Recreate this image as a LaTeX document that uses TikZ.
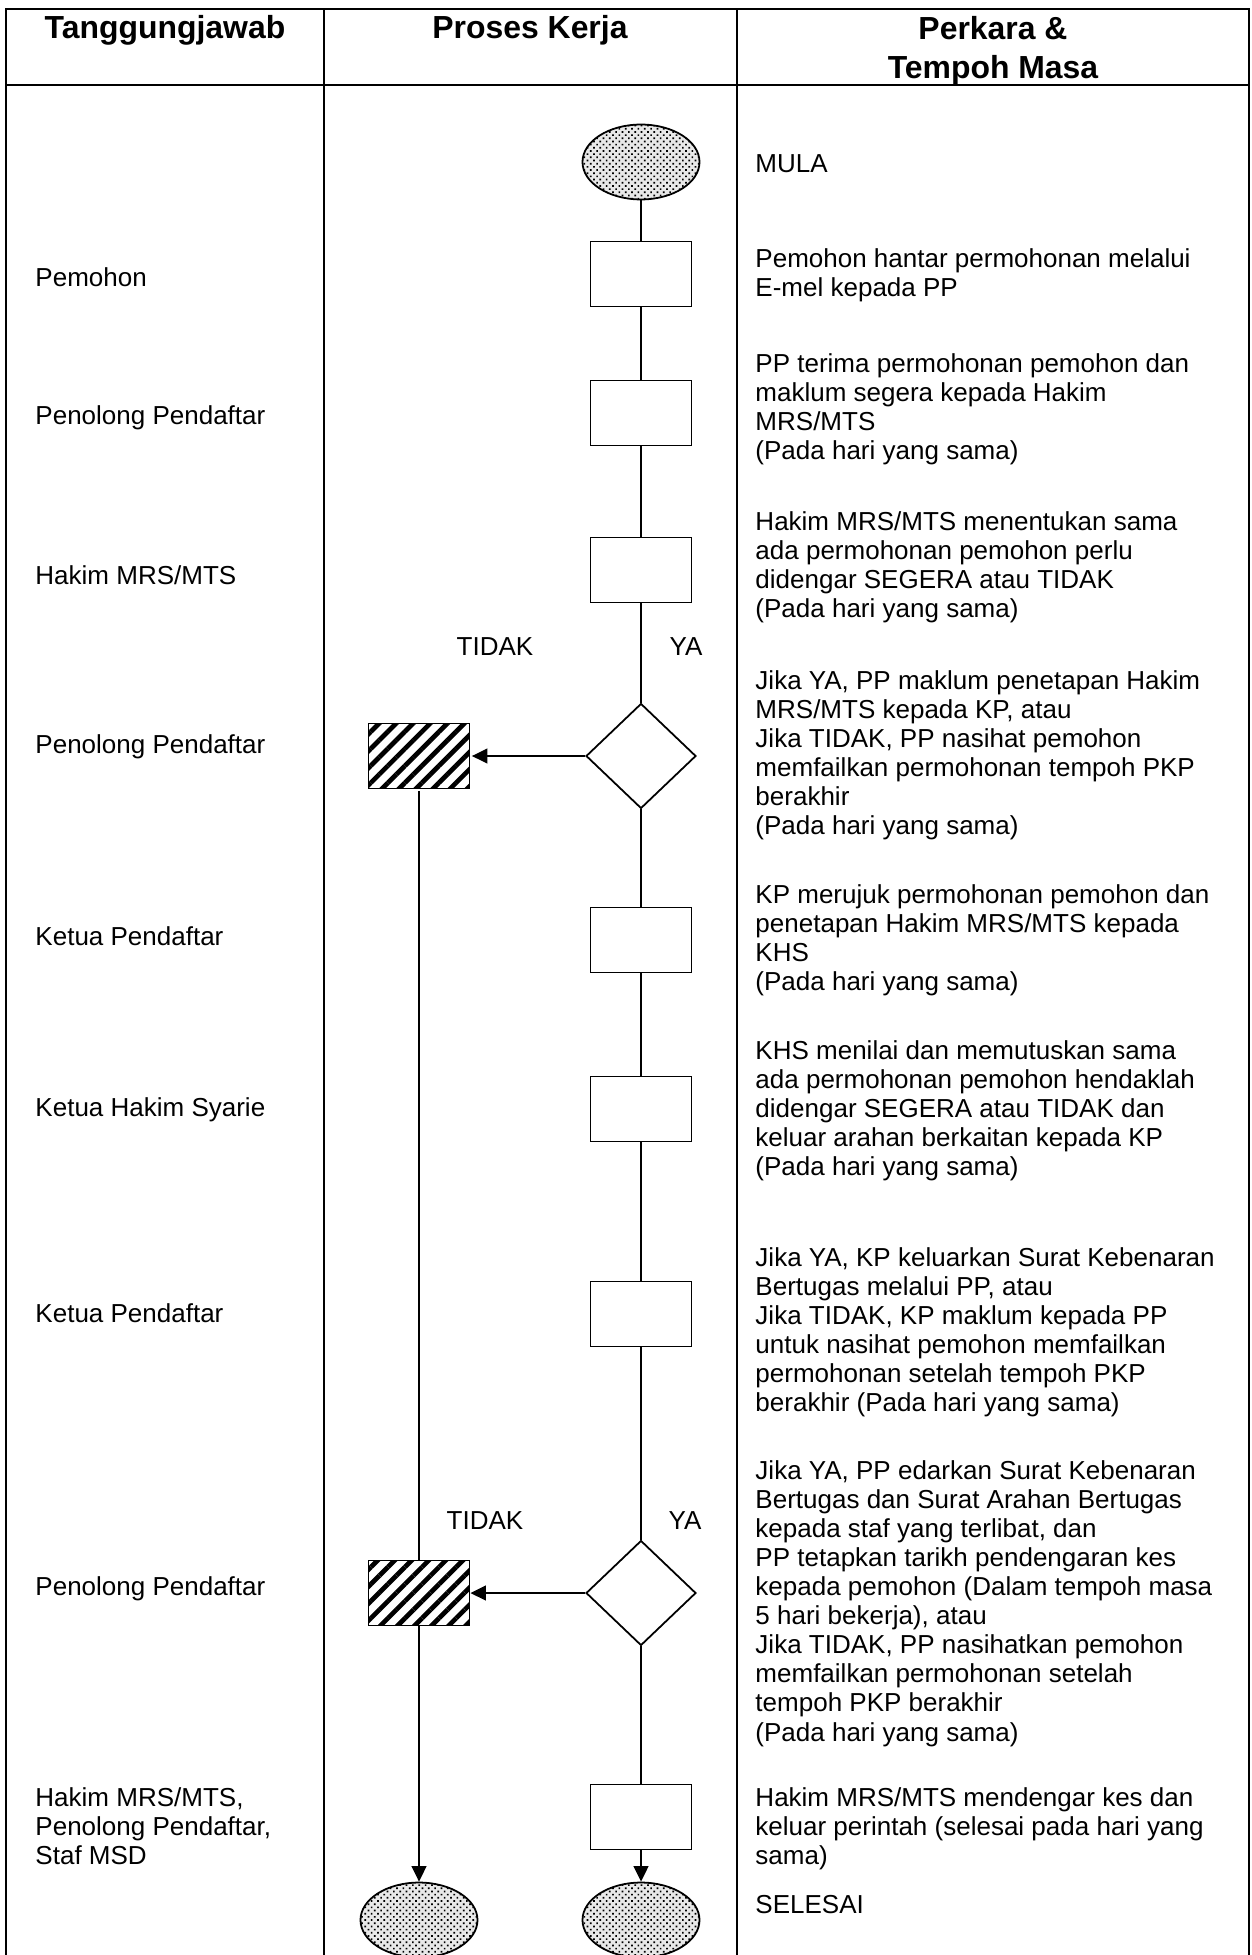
\documentclass[tikz,border=0pt]{standalone}
\usepackage{fontspec}
\setmainfont{Liberation Sans}
\usetikzlibrary{shapes.geometric,arrows.meta,patterns.meta}
\begin{document}
\begin{tikzpicture}[x=0.423pt,y=-0.423pt,
  tbl/.style={line width=1.25pt},
  hdr/.style={anchor=north, font=\fontsize{13.5}{16.5}\selectfont\bfseries, align=center, inner sep=0pt, execute at begin node=\strut},
  txt/.style={anchor=north west, inner sep=0pt, align=left, font=\fontsize{11}{12.3}\selectfont, execute at begin node=\strut},
  lbl/.style={inner sep=0pt, font=\fontsize{11}{12.3}\selectfont},
  proc/.style={draw, line width=0.75pt, fill=white, minimum width=42.7pt, minimum height=27.5pt, inner sep=0pt},
  term/.style={ellipse, draw, line width=0.75pt, minimum width=49.5pt, minimum height=31.7pt, inner sep=0pt, preaction={fill=gray!18}, pattern={Dots[distance=1.9pt, radius=0.5pt, angle=45]}},
  dec/.style={diamond, draw, line width=0.75pt, fill=white, minimum width=46.5pt, minimum height=44.4pt, inner sep=0pt},
  hatch/.style={draw, line width=0.75pt, minimum width=42.7pt, minimum height=27.5pt, inner sep=0pt, preaction={fill=white}, pattern={Lines[angle=45, distance=5.1pt, line width=2pt]}},
  flow/.style={line width=1.1pt},
  arr/.style={flow, -{Triangle[length=6.6pt, width=6.2pt]}},
]
\useasboundingbox (0,0) rectangle (1252,1955);
% table frame
\draw[tbl] (6,1955) -- (6,9) -- (1249,9) -- (1249,1955);
\draw[tbl] (6,85) -- (1249,85);
\draw[tbl] (324,9) -- (324,1955);
\draw[tbl] (737,9) -- (737,1955);
% headers
\node[hdr] (hA) at (165,11) {Tanggungjawab};
\node[hdr] (hB) at (530,11) {Proses Kerja};
\node[hdr] (hC) at (993,16) {Perkara \&\\Tempoh Masa};
% left column
\node[txt] (L1) at (35,266) {Pemohon};
\node[txt] (L2) at (35,404) {Penolong Pendaftar};
\node[txt] (L3) at (35,564) {Hakim MRS/MTS};
\node[txt] (L4) at (35,733) {Penolong Pendaftar};
\node[txt] (L5) at (35,925) {Ketua Pendaftar};
\node[txt] (L6) at (35,1096) {Ketua Hakim Syarie};
\node[txt] (L7) at (35,1302) {Ketua Pendaftar};
\node[txt] (L8) at (35,1575) {Penolong Pendaftar};
\node[txt] (L9) at (35,1787) {Hakim MRS/MTS,\\Penolong Pendaftar,\\Staf MSD};
% right column
\node[txt] (R1) at (755,152) {MULA};
\node[txt] (R2) at (755,248) {Pemohon hantar permohonan melalui\\E-mel kepada PP};
\node[txt] (R3) at (755,353) {PP terima permohonan pemohon dan\\maklum segera kepada Hakim\\MRS/MTS\\(Pada hari yang sama)};
\node[txt] (R4) at (755,511) {Hakim MRS/MTS menentukan sama\\ada permohonan pemohon perlu\\didengar SEGERA atau TIDAK\\(Pada hari yang sama)};
\node[txt] (R5) at (755,670) {Jika YA, PP maklum penetapan Hakim\\MRS/MTS kepada KP, atau\\Jika TIDAK, PP nasihat pemohon\\memfailkan permohonan tempoh PKP\\berakhir\\(Pada hari yang sama)};
\node[txt] (R6) at (755,884) {KP merujuk permohonan pemohon dan\\penetapan Hakim MRS/MTS kepada\\KHS\\(Pada hari yang sama)};
\node[txt] (R7) at (755,1040) {KHS menilai dan memutuskan sama\\ada permohonan pemohon hendaklah\\didengar SEGERA atau TIDAK dan\\keluar arahan berkaitan kepada KP\\(Pada hari yang sama)};
\node[txt] (R8) at (755,1247) {Jika YA, KP keluarkan Surat Kebenaran\\Bertugas melalui PP, atau\\Jika TIDAK, KP maklum kepada PP\\untuk nasihat pemohon memfailkan\\permohonan setelah tempoh PKP\\berakhir (Pada hari yang sama)};
\node[txt] (R9) at (755,1460) {Jika YA, PP edarkan Surat Kebenaran\\Bertugas dan Surat Arahan Bertugas\\kepada staf yang terlibat, dan\\PP tetapkan tarikh pendengaran kes\\kepada pemohon (Dalam tempoh masa\\5 hari bekerja), atau\\Jika TIDAK, PP nasihatkan pemohon\\memfailkan permohonan setelah\\tempoh PKP berakhir\\(Pada hari yang sama)};
\node[txt] (R10) at (755,1787) {Hakim MRS/MTS mendengar kes dan\\keluar perintah (selesai pada hari yang\\sama)};
\node[txt] (R11) at (755,1893) {SELESAI};
% flow shapes
\node[term] (s) at (641,162) {};
\node[proc] (p1) at (641,274) {};
\node[proc] (p2) at (641,413) {};
\node[proc] (p3) at (641,570) {};
\node[dec] (d1) at (641,756) {};
\node[hatch] (x1) at (419,756) {};
\node[proc] (p4) at (641,940) {};
\node[proc] (p5) at (641,1109) {};
\node[proc] (p6) at (641,1314) {};
\node[dec] (d2) at (641,1593) {};
\node[hatch] (x2) at (419,1593) {};
\node[proc] (p7) at (641,1817) {};
\node[term] (e1) at (419,1920) {};
\node[term] (e2) at (641,1920) {};
% labels
\node[lbl] (t1) at (495,647) {TIDAK};
\node[lbl] (y1) at (686,647) {YA};
\node[lbl] (t2) at (485,1521) {TIDAK};
\node[lbl] (y2) at (685,1521) {YA};
% connectors
\draw[flow] (s) -- (p1);
\draw[flow] (p1) -- (p2);
\draw[flow] (p2) -- (p3);
\draw[flow] (p3) -- (d1);
\draw[flow] (d1) -- (p4);
\draw[flow] (p4) -- (p5);
\draw[flow] (p5) -- (p6);
\draw[flow] (p6) -- (d2);
\draw[flow] (d2) -- (p7);
\draw[arr] (p7) -- (e2);
\draw[arr] (d1.west) -- (x1.east);
\draw[arr] (d2.west) -- (x2.east);
\draw[flow] (x1.south) -- (x2.north);
\draw[arr] (x2) -- (e1);
\end{tikzpicture}
\end{document}
